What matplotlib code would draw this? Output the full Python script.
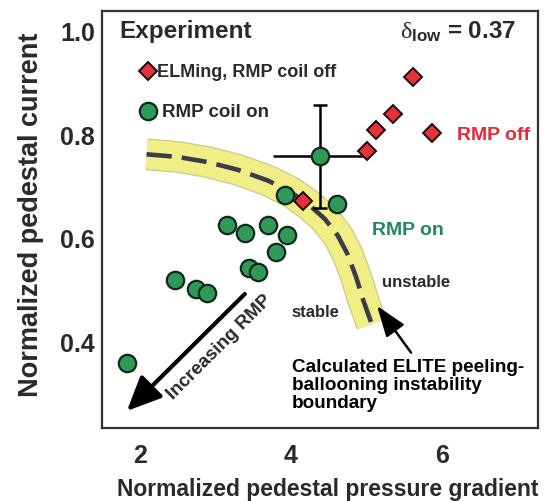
import matplotlib
matplotlib.use('Agg')
import matplotlib.pyplot as plt
from matplotlib import font_manager

names = {f.name for f in font_manager.fontManager.ttflist}
FONT = 'Liberation Sans Narrow' if 'Liberation Sans Narrow' in names else 'Liberation Sans'
plt.rcParams['font.family'] = [FONT, 'DejaVu Sans']
plt.rcParams['mathtext.fontset'] = 'custom'
plt.rcParams['mathtext.rm'] = FONT + ':bold'
plt.rcParams['mathtext.it'] = 'Liberation Serif'

# ---------------- data ----------------
rmp_on_x = [1.83, 2.46, 2.75, 2.89, 3.15, 3.39, 3.70, 3.95, 3.80, 3.44, 3.56, 3.92, 4.61]
rmp_on_y = [0.357, 0.518, 0.500, 0.493, 0.624, 0.609, 0.624, 0.605, 0.572, 0.541, 0.533, 0.682, 0.665]

err_x, err_y = 4.38, 0.757
err_dx, err_dy = 0.62, 0.10

rmp_off_x = [4.16, 5.01, 5.13, 5.35, 5.62, 5.87]
rmp_off_y = [0.670, 0.767, 0.808, 0.839, 0.910, 0.802]

boundary_x = [2.09, 2.5, 2.9, 3.3, 3.7, 4.0, 4.25, 4.45, 4.62, 4.75, 4.86, 4.96, 5.07]
boundary_y = [0.761, 0.756, 0.746, 0.731, 0.710, 0.688, 0.662, 0.636, 0.604, 0.568, 0.525, 0.478, 0.433]

x_ticks = [2, 4, 6]
y_ticks = [0.4, 0.6, 0.8, 1.0]

TXT = '#2a2a2a'
GREEN_FACE = '#2f9a58'
GREEN_EDGE = '#10281a'
RED_FACE = '#e8303a'

fig = plt.figure(figsize=(5.46, 5.02), dpi=100)
ax = fig.add_axes([102 / 546, 1 - 429 / 502, 436 / 546, 417 / 502])
ax.set_xlim(1.50, 7.27)
ax.set_ylim(0.232, 1.038)

# boundary band
ax.plot(boundary_x, boundary_y, color='#cfcc8e', lw=23, solid_capstyle='butt', solid_joinstyle='round', zorder=1)
ax.plot(boundary_x, boundary_y, color='#f0ee84', lw=21, solid_capstyle='butt', solid_joinstyle='round', zorder=1.1)
ax.plot(boundary_x, boundary_y, color='#3b3b4a', lw=3.3, dashes=(5.5, 2.2), zorder=1.2)

# error bar
ax.errorbar([err_x], [err_y], xerr=[err_dx], fmt='none', ecolor='black', elinewidth=1.8, capsize=0, zorder=2)
ax.errorbar([err_x], [err_y], yerr=[err_dy], fmt='none', ecolor='black', elinewidth=1.8, capsize=5, capthick=1.8, zorder=2)

# markers
ax.plot(rmp_on_x + [err_x], rmp_on_y + [err_y], 'o', ms=12.5, mfc=GREEN_FACE, mec=GREEN_EDGE, mew=1.6, ls='none', zorder=3)
ax.plot(rmp_off_x, rmp_off_y, 'D', ms=9.5, mfc=RED_FACE, mec='#1a0a0a', mew=1.4, ls='none', zorder=3)

# legend-like entries
ax.plot([2.11], [0.922], 'D', ms=9.5, mfc=RED_FACE, mec='#1a0a0a', mew=1.4)
ax.text(2.23, 0.922, 'ELMing, RMP coil off', fontsize=13, fontweight='bold', color=TXT, va='center', ha='left')
ax.plot([2.11], [0.844], 'o', ms=12.5, mfc=GREEN_FACE, mec=GREEN_EDGE, mew=1.6)
ax.text(2.29, 0.844, 'RMP coil on', fontsize=13.5, fontweight='bold', color=TXT, va='center', ha='left')

ax.text(1.73, 1.0, 'Experiment', fontsize=17.5, fontweight='bold', color=TXT, va='center', ha='left')
ax.text(6.98, 1.0, r'$\delta_{\rm low}$ = 0.37', fontsize=17.5, fontweight='bold', color=TXT, va='center', ha='right')

ax.text(6.20, 0.800, 'RMP off', fontsize=14, fontweight='bold', color='#e8283c', va='center', ha='left')
ax.text(5.07, 0.615, 'RMP on', fontsize=14, fontweight='bold', color='#1f8a5a', va='center', ha='left')
ax.text(5.205, 0.516, 'unstable', fontsize=12, fontweight='bold', color=TXT, va='center', ha='left')
ax.text(4.01, 0.458, 'stable', fontsize=12, fontweight='bold', color=TXT, va='center', ha='left')

ax.annotate('Calculated ELITE peeling-\nballooning instability\nboundary',
            xy=(5.14, 0.468), xytext=(4.01, 0.368), fontsize=13.6, fontweight='bold', color='black',
            ha='left', va='top', linespacing=1.1,
            arrowprops=dict(arrowstyle='-|>,head_length=1.4,head_width=0.5', color='black', lw=1.8,
                            shrinkA=2, shrinkB=0, relpos=(0.53, 1.0)))

ax.annotate('', xy=(1.83, 0.265), xytext=(3.39, 0.491),
            arrowprops=dict(arrowstyle='-|>,head_length=2.1,head_width=0.95', color='black', lw=3,
                            shrinkA=0, shrinkB=0))
ax.text(3.05, 0.390, 'Increasing RMP', fontsize=13.5, fontweight='bold', color=TXT,
        rotation=45, rotation_mode='anchor', ha='center', va='center')

ax.set_xticks(x_ticks)
ax.set_xticklabels([str(v) for v in x_ticks])
ax.set_yticks(y_ticks)
ax.set_yticklabels([f'{v:.1f}' for v in y_ticks])
ax.tick_params(length=0, labelsize=18, colors=TXT)
ax.tick_params(axis='x', pad=11)
ax.tick_params(axis='y', pad=5)
for lab in ax.get_xticklabels() + ax.get_yticklabels():
    lab.set_fontweight('bold')
for s in ax.spines.values():
    s.set_color('#333333')
    s.set_linewidth(1.6)

ax.set_xlabel('Normalized pedestal pressure gradient', fontsize=16.5, fontweight='bold', color=TXT)
ax.xaxis.set_label_coords((328 - 102) / 436, -(478 - 429) / 417)
ax.set_ylabel('Normalized pedestal current', fontsize=19.5, fontweight='bold', color=TXT)
ax.yaxis.set_label_coords(-(102 - 44) / 436, (429 - 215) / 417)

fig.savefig('out.png', dpi=100)
